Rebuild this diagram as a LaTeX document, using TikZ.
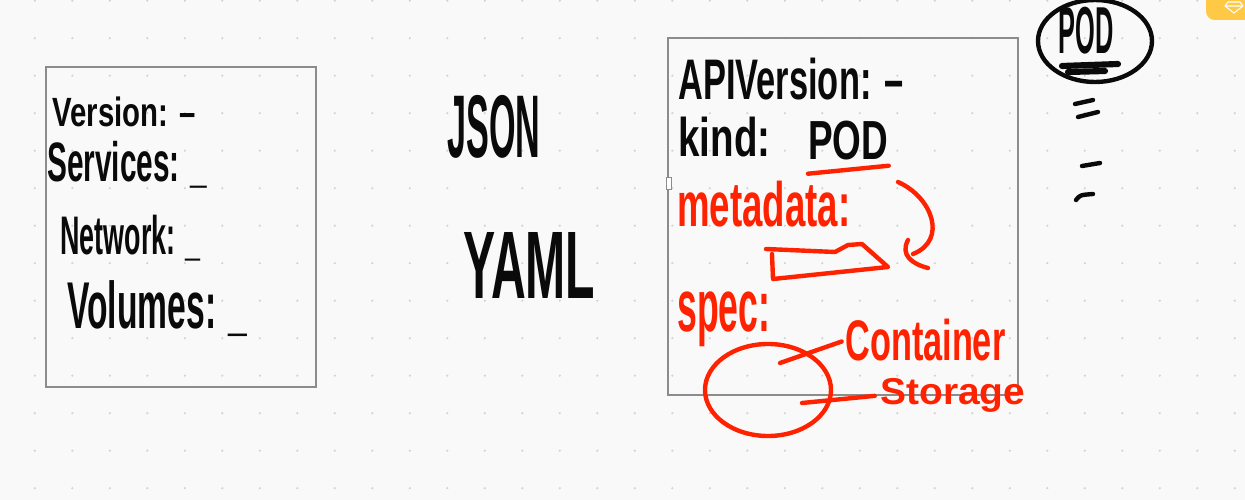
\documentclass[tikz,border=0pt]{standalone}
\usepackage{fontspec}
\setmainfont{Liberation Sans}
\usepackage{graphicx}
\usetikzlibrary{shapes.geometric,calc}
\newlength\px \setlength\px{0.02cm}
\newcommand\fit[3]{\resizebox*{#1\px}{#2\px}{\bfseries #3}}
\definecolor{ink}{HTML}{0A0A0A}
\definecolor{pen}{HTML}{FF2200}
\definecolor{grid}{HTML}{D2D2D2}
\definecolor{frame}{HTML}{8C8C8C}
\definecolor{badge}{HTML}{FFC845}
\definecolor{paper}{HTML}{F9F9F9}
\begin{document}
\begin{tikzpicture}[x=0.02cm,y=-0.02cm,
 txt/.style={inner sep=0pt, anchor=north west, text=ink},
 redtxt/.style={txt, text=pen},
 panel/.style={draw=frame, line width=0.8pt},
 stroke/.style={line width=2.5pt, line cap=round, line join=round},
 redstroke/.style={stroke, draw=pen},
 blackstroke/.style={stroke, draw=ink}]
\fill[paper] (0,0) rectangle (1245,500);
\useasboundingbox (0,0) rectangle (1245,500);
\foreach \i in {0,...,33}{\foreach \j in {0,...,13}{\fill[grid] (34.8+37.5*\i,0.7+37.5*\j) circle (0.7pt);}}
% badge
\fill[badge, rounded corners=5pt] (1206,-12) rectangle (1262,20);
\draw[white, line width=0.6pt, line join=round] (1228,2) -- (1240,2) -- (1243,6) -- (1234,13) -- (1225,6) -- cycle (1225,6) -- (1243,6);
% panels
\draw[panel] (46,67) rectangle (316,387);
\draw[panel] (668,38) rectangle (1018,395);
\draw[frame, fill=white, line width=0.5pt] (666,177) rectangle (671,189);
% left panel text
\node[txt] (ver) at (52,97) {\fit{143}{30}{Version: –}};
\node[txt] (svc) at (47,141) {\fit{160}{47}{Services: \_}};
\node[txt] (net) at (60,215) {\fit{140}{46}{Network: \_}};
\node[txt] (vol) at (67,280) {\fit{180}{56}{Volumes: \_}};
% middle
\node[txt] (json) at (447,95) {\fit{93}{63}{JSON}};
\node[txt] (yaml) at (463,232) {\fit{132}{66}{YAML}};
% right panel
\node[txt] (api) at (678,58) {\fit{225}{42}{APIVersion: –}};
\node[txt] (kind) at (678,117) {\fit{92}{40}{kind:}};
\node[txt] (pod) at (808,121) {\fit{80}{39}{POD}};
\draw[redstroke] ($(pod.south west)+(0,13)$) -- ($(pod.south east)+(0,5)$);
\node[redtxt] (meta) at (677,181) {\fit{173}{46}{metadata:}};
\draw[redstroke] (766,249) -- (835,252) -- (848,245) -- (862,244) -- (888,267) -- (773,279) -- (772,254);
\coordinate (a0) at (898,182);
\coordinate (a1) at (913,254);
\draw[redstroke] (a0) .. controls (932,197) and (948,240) .. (a1);
\draw[redstroke] (908,240) .. controls (900,255) and (912,264) .. (928,268);
\node[redtxt] (spec) at (677,291) {\fit{93}{55}{spec:}};
\node[redstroke, ellipse, inner sep=0pt, minimum width=126\px, minimum height=92\px] (ctr) at (768,390) {};
\node[redtxt] (cont) at (845,319) {\fit{160}{42}{Container}};
\node[redtxt] (stor) at (880,378) {\fit{145}{34}{Storage}};
\coordinate (c1) at (780,363);
\coordinate (c2) at (802,403);
\draw[redstroke, shorten >=2pt] (c1) -- (cont.west);
\draw[redstroke, shorten >=3pt] (c2) -- (stor.west);
% top right
\node[txt] (podtop) at (1058,7) {\fit{55}{47}{POD}};
\node[blackstroke, ellipse, inner sep=0pt, minimum width=114\px, minimum height=82\px] (ring) at (1095,41) {};
\draw[blackstroke, line width=3.5pt] (1062,66) -- (1118,64);
\draw[blackstroke, line width=3.5pt] (1068,72) -- (1105,71);
\draw[blackstroke] (1075,104) -- (1093,100);
\draw[blackstroke] (1078,117) -- (1098,112);
\draw[blackstroke] (1082,166) -- (1100,163);
\draw[blackstroke] (1076,200) .. controls (1080,195) .. (1093,194);
\end{tikzpicture}
\end{document}
